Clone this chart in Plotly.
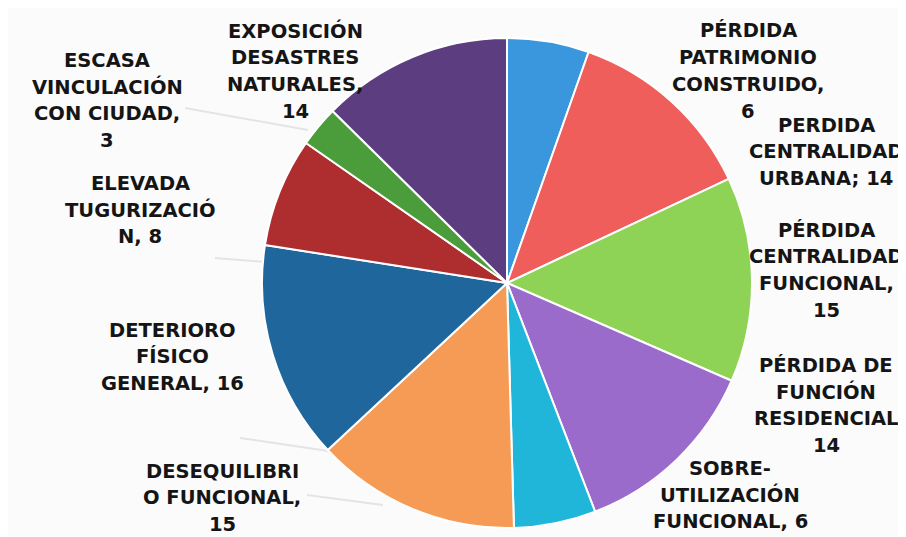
import plotly.graph_objects as go

# slice data, clockwise from 12 o'clock
categories = [
    "Pérdida patrimonio construido",
    "Perdida centralidad urbana",
    "Pérdida centralidad funcional",
    "Pérdida de función residencial",
    "Sobre-utilización funcional",
    "Desequilibrio funcional",
    "Deterioro físico general",
    "Elevada tugurización",
    "Escasa vinculación con ciudad",
    "Exposición desastres naturales",
]
values = [6, 14, 15, 14, 6, 15, 16, 8, 3, 14]
colors = ["#3a97de", "#ef5e5a", "#8ed356", "#9a6bcb", "#20b6da",
          "#f59b56", "#1e669c", "#ae2e30", "#4b9d3b", "#5c3e80"]

# label text as drawn in the picture (line by line)
label_lines = [
    ["PÉRDIDA", "PATRIMONIO", "CONSTRUIDO,", "6"],
    ["PERDIDA", "CENTRALIDAD", "URBANA; 14"],
    ["PÉRDIDA", "CENTRALIDAD", "FUNCIONAL,", "15"],
    ["PÉRDIDA DE", "FUNCIÓN", "RESIDENCIAL", "14"],
    ["SOBRE-", "UTILIZACIÓN", "FUNCIONAL, 6"],
    ["DESEQUILIBRI", "O FUNCIONAL,", "15"],
    ["DETERIORO", "FÍSICO", "GENERAL, 16"],
    ["ELEVADA", "TUGURIZACIÓ", "N, 8"],
    ["ESCASA", "VINCULACIÓN", "CON CIUDAD,", "3"],
    ["EXPOSICIÓN", "DESASTRES", "NATURALES,", "14"],
]
# label anchor in window pixels (center x, first-line y)
label_pos = [(748, 31), (826, 125), (826, 230), (826, 365), (730, 468),
             (222, 471), (172, 330), (140, 183), (107, 60), (295, 31)]

# page body has an 8px margin, so coords are shifted by it
OFF = 8
W, H = 906 - OFF, 537 - OFF
LINE_H = 26.8
CX, CY, R = 507, 283, 245


def px(x):
    return (x - OFF) / W


def py(y):
    return 1 - (y - OFF) / H


fig = go.Figure(go.Pie(
    labels=categories,
    values=values,
    sort=False,
    direction="clockwise",
    rotation=0,
    textinfo="none",
    hoverinfo="label+value",
    marker=dict(colors=colors, line=dict(color="white", width=2)),
    domain=dict(x=[px(CX - R), px(CX + R)], y=[py(CY + R), py(CY - R)]),
    showlegend=False,
))

annotations = []
for lines, (lx, ly) in zip(label_lines, label_pos):
    for i, line in enumerate(lines):
        annotations.append(dict(
            text=line, xref="paper", yref="paper",
            x=px(lx), y=py(ly + i * LINE_H),
            xanchor="center", yanchor="middle", showarrow=False,
            font=dict(family="DejaVu Sans", size=19.5, color="#151515",
                      weight="bold"),
        ))

# faint leader lines
leaders = [((185, 108), (308, 130)), ((215, 258), (266, 262)),
           ((240, 438), (335, 452)), ((307, 495), (383, 505))]
shapes = [dict(type="line", xref="paper", yref="paper",
               x0=px(a[0]), y0=py(a[1]), x1=px(b[0]), y1=py(b[1]),
               line=dict(color="#e4e4e4", width=2), layer="below")
          for a, b in leaders]

fig.update_layout(
    width=W, height=H,
    margin=dict(l=0, r=0, t=0, b=0),
    paper_bgcolor="#fbfbfb",
    plot_bgcolor="#fbfbfb",
    annotations=annotations,
    shapes=shapes,
)

fig.write_html("out.html")
